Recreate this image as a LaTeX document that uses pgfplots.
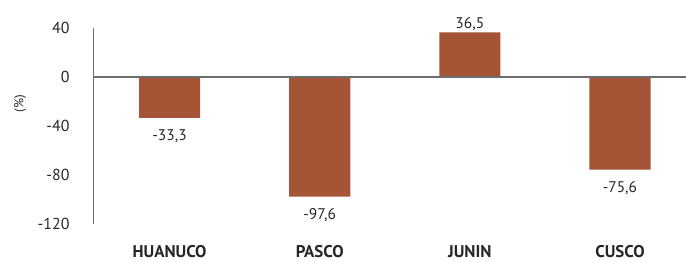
\documentclass[border=0pt]{standalone}
\usepackage{pgfplots}
\pgfplotsset{compat=1.18}
\usepackage{fontspec}
\setmainfont{PT Sans}
\definecolor{barc}{HTML}{A55535}
\definecolor{axc}{HTML}{6E6E6E}
\begin{document}
\begin{tikzpicture}[x=1bp,y=1bp]
\path[use as bounding box] (0,0) rectangle (686,261);
\begin{axis}[
  at={(93bp,37bp)}, anchor=south west,
  scale only axis, width=593bp, height=196bp,
  xmin=-0.51, xmax=3.44, ymin=-120, ymax=40,
  ybar, bar width=0.407, bar shift=0pt,
  axis x line*=bottom,
  x axis line style={draw=none},
  xtick={0,1,2,3},
  xticklabels={HUANUCO,PASCO,JUNIN,CUSCO},
  xticklabel style={font=\bfseries\fontsize{17}{18}\selectfont, text=black!85, inner sep=0pt, anchor=north, yshift=-21bp},
  axis y line*=left,
  y axis line style={axc, line width=0.8pt, -},
  ytick={-120,-80,-40,0,40},
  major tick length=0pt,
  yticklabel style={font=\fontsize{16}{17}\selectfont, text=black!85, xshift=-20bp},
  /pgf/number format/assume math mode=true,
  ylabel={(\%)},
  every axis y label/.style={at={(axis description cs:-0.123,0.615)}, rotate=90, anchor=center, font=\fontsize{13}{14}\selectfont, text=black!85},
  clip=false,
  nodes near coords={\pgfmathprintnumber[use comma,fixed,fixed zerofill,precision=1]{\pgfplotspointmeta}},
  nodes near coords align={vertical},
  every node near coord/.append style={font=\fontsize{15.5}{16}\selectfont, text=black!85, inner sep=6.5bp, yshift=-5.5bp},
]
\addplot[fill=barc, draw=none] coordinates {(0,-33.3) (1,-97.6) (2,36.5) (3,-75.6)};
\draw[axc, line width=1.2pt] (axis cs:-0.51,0) -- (axis cs:3.44,0);
\end{axis}
\end{tikzpicture}
\end{document}
